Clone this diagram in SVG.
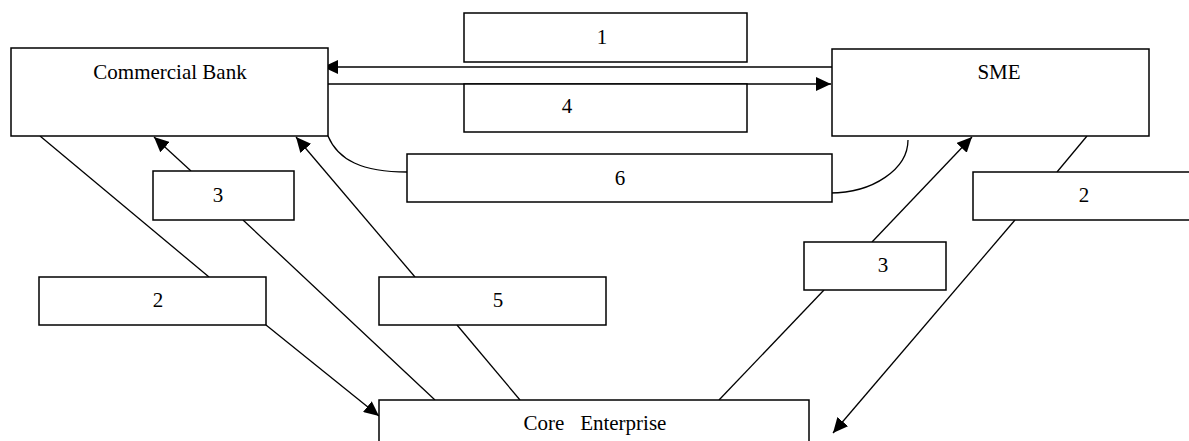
<svg xmlns="http://www.w3.org/2000/svg" width="1189" height="441" viewBox="0 0 1189 441">
  <style>
    .box { fill: #ffffff; stroke: #000000; stroke-width: 1.5; }
    .lbl { font-family: "Liberation Serif", "Times New Roman", serif; font-size: 21px; fill: #000000; text-anchor: middle; white-space: pre; }
    .edge { fill: none; stroke: #000000; stroke-width: 1.3; }
    .arr { marker-end: url(#head); }
  </style>
  <defs>
    <marker id="head" markerUnits="userSpaceOnUse" markerWidth="16" markerHeight="14" refX="15" refY="7" orient="auto">
      <path d="M0,0 L15,7 L0,14 z" fill="#000000"/>
    </marker>
  </defs>

  <rect width="1189" height="441" fill="#ffffff"/>

  <!-- connectors -->
  <g id="connectors">
    <!-- SME to bank / bank to SME -->
    <line class="edge arr" x1="832" y1="67" x2="323" y2="67"/>
    <line class="edge arr" x1="328" y1="84" x2="831" y2="84"/>
    <!-- flow 6 ties both parties -->
    <path class="edge" d="M328,136 C338,160 362,172 407,172"/>
    <path class="edge" d="M908,140 C908,169 873,193 830,193"/>
    <!-- flow 2, left: bank to core enterprise -->
    <line class="edge" x1="40" y1="136" x2="209" y2="277"/>
    <line class="edge arr" x1="266" y1="325" x2="379" y2="416"/>
    <!-- flow 3, left: core enterprise to bank -->
    <line class="edge" x1="435" y1="400" x2="243" y2="220"/>
    <line class="edge arr" x1="191" y1="171" x2="154" y2="137"/>
    <!-- flow 5: core enterprise to bank -->
    <line class="edge" x1="520" y1="400" x2="457" y2="325"/>
    <line class="edge arr" x1="415" y1="277" x2="296" y2="137"/>
    <!-- flow 3, right: core enterprise to SME -->
    <line class="edge" x1="719" y1="400" x2="824" y2="290"/>
    <line class="edge arr" x1="872" y1="242" x2="972" y2="137"/>
    <!-- flow 2, right: SME to core enterprise -->
    <line class="edge" x1="1087" y1="136" x2="1057" y2="172"/>
    <line class="edge arr" x1="1015" y1="220" x2="833" y2="433"/>
  </g>

  <g id="bank">
    <rect class="box" x="11" y="48" width="317" height="88"/>
    <text class="lbl" x="170" y="79">Commercial Bank</text>
  </g>

  <g id="sme">
    <rect class="box" x="832" y="49" width="317" height="87"/>
    <text class="lbl" x="999" y="79">SME</text>
  </g>

  <g id="core">
    <rect class="box" x="379" y="400" width="430" height="60"/>
    <text class="lbl" x="595" y="430">Core   Enterprise</text>
  </g>

  <g id="step1">
    <rect class="box" x="464" y="13" width="283" height="49"/>
    <text class="lbl" x="602" y="44">1</text>
  </g>

  <g id="step4">
    <rect class="box" x="464" y="84" width="283" height="48"/>
    <text class="lbl" x="567" y="113">4</text>
  </g>

  <g id="step6">
    <rect class="box" x="407" y="154" width="425" height="48"/>
    <text class="lbl" x="620" y="185">6</text>
  </g>

  <g id="step3-left">
    <rect class="box" x="153" y="171" width="141" height="49"/>
    <text class="lbl" x="218" y="202">3</text>
  </g>

  <g id="step2-left">
    <rect class="box" x="39" y="277" width="227" height="48"/>
    <text class="lbl" x="158" y="307">2</text>
  </g>

  <g id="step5">
    <rect class="box" x="379" y="277" width="227" height="48"/>
    <text class="lbl" x="498" y="307">5</text>
  </g>

  <g id="step3-right">
    <rect class="box" x="804" y="242" width="142" height="48"/>
    <text class="lbl" x="883" y="272">3</text>
  </g>

  <g id="step2-right">
    <rect class="box" x="973" y="172" width="230" height="48"/>
    <text class="lbl" x="1084" y="202">2</text>
  </g>
</svg>
